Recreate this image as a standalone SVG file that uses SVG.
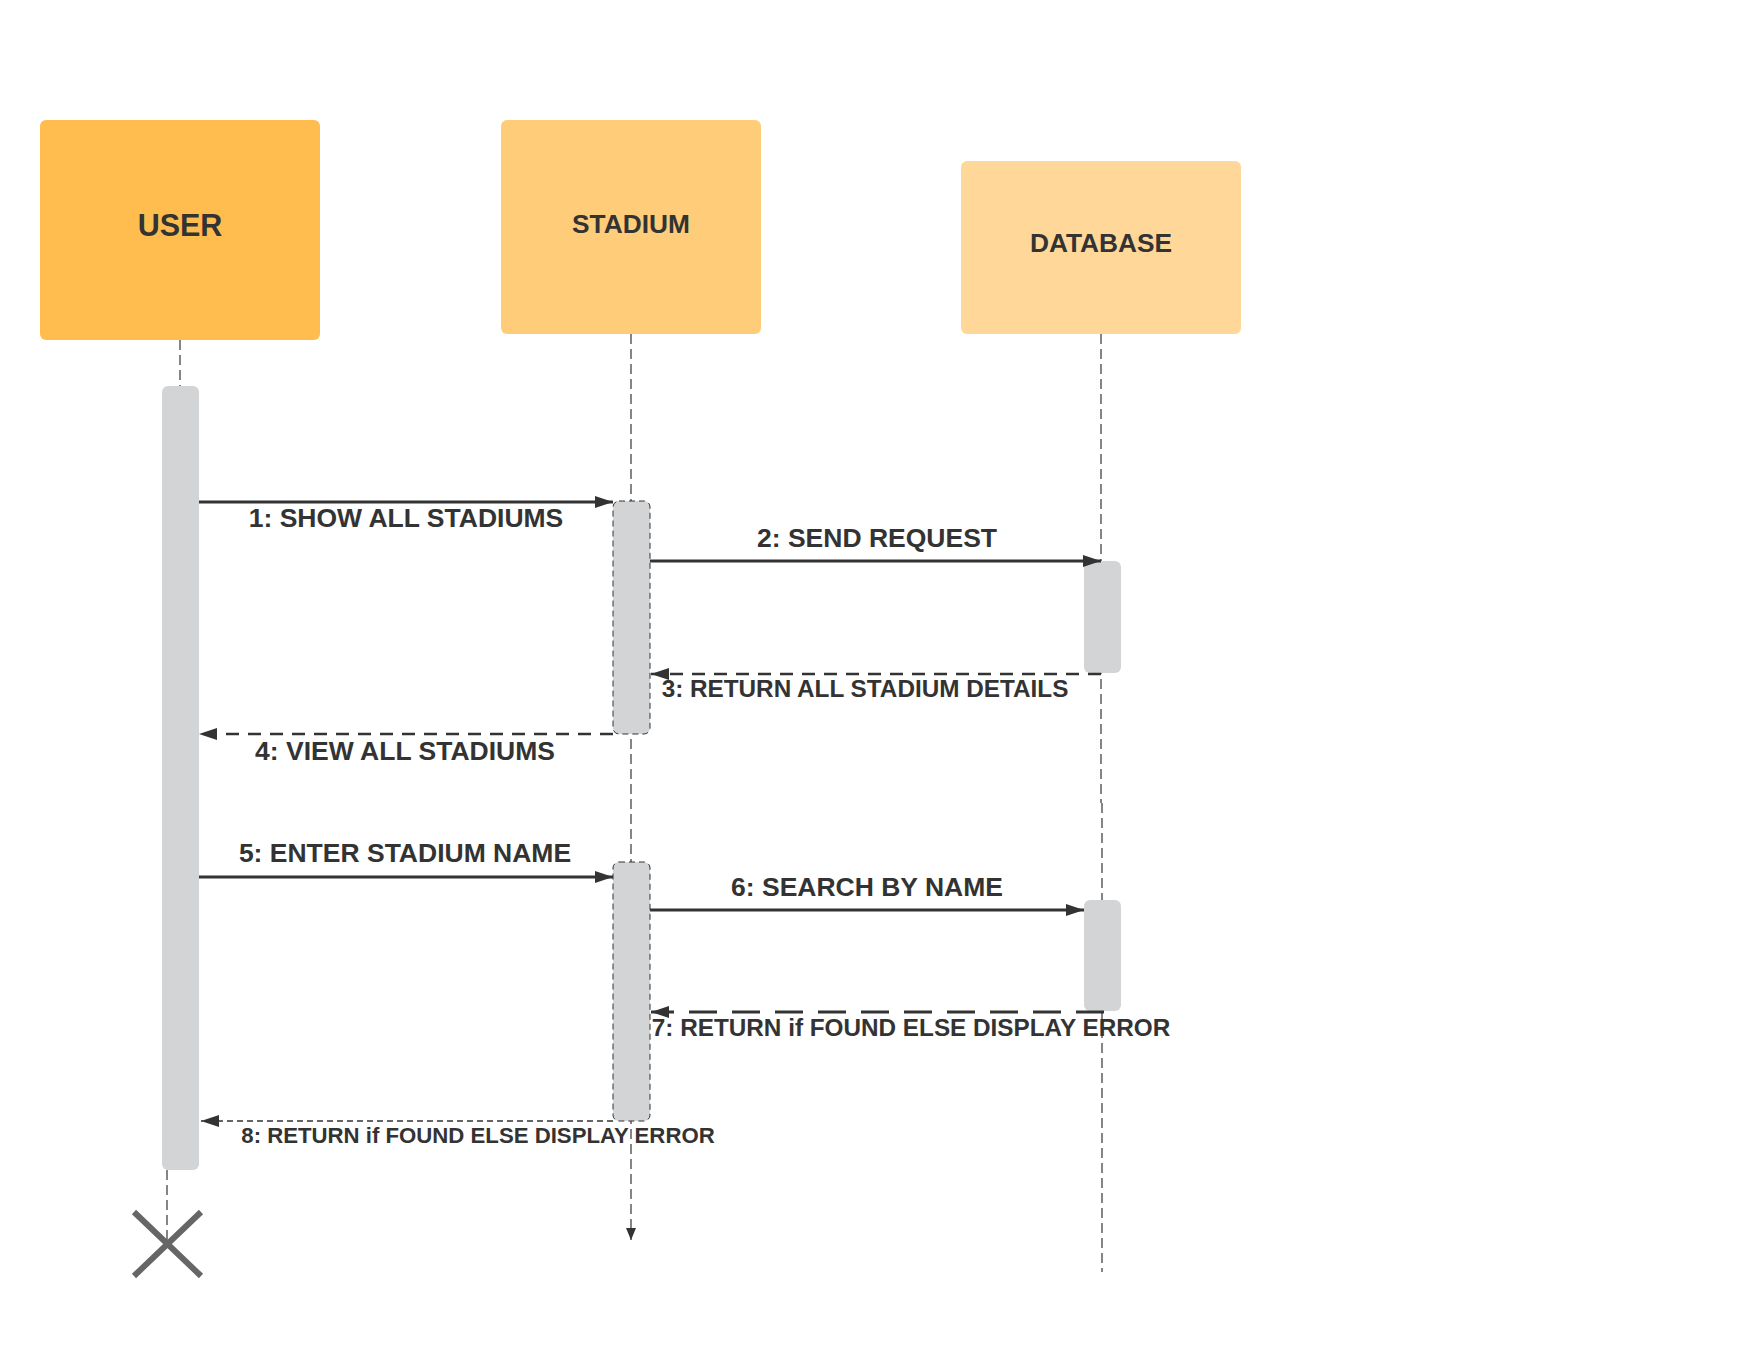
<svg xmlns="http://www.w3.org/2000/svg" width="1763" height="1360" viewBox="0 0 1763 1360">
<style>
.t{font-family:"Liberation Sans",Arial,sans-serif;font-weight:bold;fill:#333;text-anchor:middle}
.life{stroke:#444;stroke-width:1.3;stroke-dasharray:10 5;fill:none}
.bar{fill:#D3D4D6}
.dbar{fill:#D3D4D6;stroke:#333;stroke-width:1;stroke-dasharray:6 4}
.msg{stroke:#333;stroke-width:2.8;fill:none}
.ret{stroke:#333;stroke-width:2.6;stroke-dasharray:13 9;fill:none}
.ret7{stroke:#333;stroke-width:3;stroke-dasharray:28 15;fill:none}
.ret8{stroke:#333;stroke-width:1.7;stroke-dasharray:6 4;fill:none}
</style>
<defs>
<marker id="ah" markerUnits="userSpaceOnUse" markerWidth="18" markerHeight="12" refX="18" refY="6" orient="auto"><path d="M0,0 L18,6 L0,12 Z" fill="#333"/></marker>
<marker id="ahs" markerUnits="userSpaceOnUse" markerWidth="12" markerHeight="10" refX="12" refY="5" orient="auto"><path d="M0,0 L12,5 L0,10 Z" fill="#333"/></marker>
</defs>
<rect width="1763" height="1360" fill="#fff"/>
<g id="user">
<rect x="40" y="120" width="280" height="220" rx="6" fill="#FFBC4F"/>
<text class="t" x="180" y="236" font-size="30.5">USER</text>
<line class="life" x1="180" y1="340" x2="180" y2="386"/>
<line class="life" x1="167" y1="1170" x2="167" y2="1244"/>
<rect class="bar" x="162" y="386" width="37" height="784" rx="6"/>
<path d="M134,1212 L201,1276 M201,1212 L134,1276" stroke="#666" stroke-width="6" fill="none"/>
</g>
<g id="stadium">
<rect x="501" y="120" width="260" height="214" rx="6" fill="#FFCD7A"/>
<text class="t" x="631" y="233" font-size="26.3">STADIUM</text>
<line class="life" x1="631" y1="334" x2="631" y2="1240" marker-end="url(#ahs)"/>
<rect class="dbar" x="613" y="501" width="37" height="233" rx="6"/>
<rect class="dbar" x="613" y="862" width="37" height="259" rx="6"/>
</g>
<g id="database">
<rect x="961" y="161" width="280" height="173" rx="6" fill="#FFD899"/>
<text class="t" x="1101" y="252" font-size="26.3">DATABASE</text>
<line class="life" x1="1101" y1="334" x2="1101" y2="803"/>
<line class="life" x1="1102" y1="803" x2="1102" y2="1272"/>
<rect class="bar" x="1084" y="561" width="37" height="112" rx="6"/>
<rect class="bar" x="1084" y="900" width="37" height="111" rx="6"/>
</g>
<g id="connectors">
<line class="msg" x1="199" y1="502" x2="613" y2="502" marker-end="url(#ah)"/>
<line class="msg" x1="650" y1="561" x2="1101" y2="561" marker-end="url(#ah)"/>
<line class="ret" x1="1101" y1="674" x2="651" y2="674" marker-end="url(#ah)"/>
<line class="ret" x1="613" y1="734" x2="199" y2="734" marker-end="url(#ah)"/>
<line class="msg" x1="199" y1="877" x2="613" y2="877" marker-end="url(#ah)"/>
<line class="msg" x1="650" y1="910" x2="1084" y2="910" marker-end="url(#ah)"/>
<line class="ret7" x1="1104" y1="1012" x2="651" y2="1012" marker-end="url(#ah)"/>
<line class="ret8" x1="613" y1="1121" x2="201" y2="1121" marker-end="url(#ah)"/>
</g>
<g id="labels">
<text class="t" x="406" y="527" font-size="26.5">1: SHOW ALL STADIUMS</text>
<text class="t" x="877" y="547" font-size="26.5">2: SEND REQUEST</text>
<text class="t" x="865" y="697" font-size="24.3">3: RETURN ALL STADIUM DETAILS</text>
<text class="t" x="405" y="760" font-size="26.5">4: VIEW ALL STADIUMS</text>
<text class="t" x="405" y="862" font-size="26.5">5: ENTER STADIUM NAME</text>
<text class="t" x="867" y="896" font-size="26.5">6: SEARCH BY NAME</text>
<text class="t" x="911" y="1036" font-size="24.3">7: RETURN if FOUND ELSE DISPLAY ERROR</text>
<text class="t" x="478" y="1143" font-size="22.2">8: RETURN if FOUND ELSE DISPLAY ERROR</text>
</g>
</svg>
